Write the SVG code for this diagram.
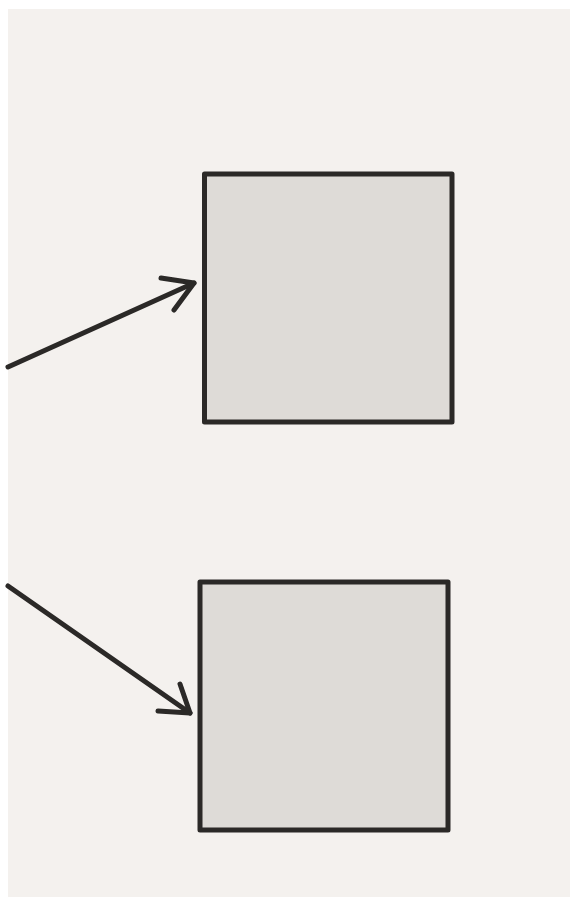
<svg xmlns="http://www.w3.org/2000/svg" width="570" height="897" viewBox="0 0 570 897">
<style>
.node rect{fill:#dedbd7;stroke:#2b2927;stroke-width:5;stroke-linejoin:round}
.conn path{fill:none;stroke:#2b2927;stroke-width:5;stroke-linecap:round;stroke-linejoin:round}
</style>
<rect x="0" y="0" width="570" height="897" fill="#ffffff"/>
<rect x="8" y="9" width="562" height="888" fill="#f4f1ee"/>
<g id="box1" class="node"><rect x="204.5" y="174" width="247.5" height="248"/></g>
<g id="box2" class="node"><rect x="200" y="582" width="248" height="248"/></g>
<g id="connectors" class="conn">
<path d="M8 367 L194 283"/>
<path d="M161 278 L194 283 L174 310"/>
<path d="M8 586 L190 713"/>
<path d="M158 711 L190 713 L180 684"/>
</g>
</svg>
